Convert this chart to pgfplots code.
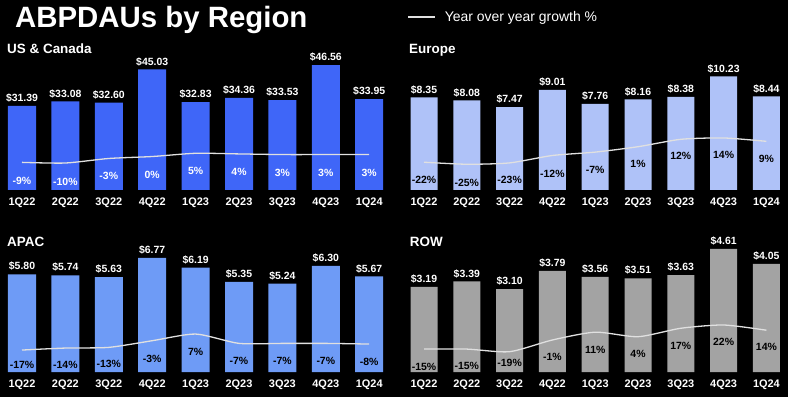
\documentclass[border=0pt]{standalone}
\usepackage{fontspec}
\setmainfont{Liberation Sans}
\usepackage{pgfplots}
\usepackage{pgfplotstable}
\pgfplotsset{compat=1.18}
\definecolor{usblue}{HTML}{3F66F8}
\definecolor{eublue}{HTML}{AFC2F8}
\definecolor{apblue}{HTML}{6E9BF6}
\definecolor{rowgray}{HTML}{A3A3A3}
\definecolor{gline}{HTML}{E0E0E0}

% x  value  yoy-growth  label-offset(bp)
\pgfplotstableread{
x val g off
0 31.39 -9 -18.5
1 33.08 -10 -18.5
2 32.60 -3 -17
3 45.03 0 -18
4 32.83 5 -18
5 34.36 4 -18
6 33.53 3 -18
7 46.56 3 -18
8 33.95 3 -18
}\us
\pgfplotstableread{
x val g off
0 8.35 -22 -18
1 8.08 -25 -18.5
2 7.47 -23 -17.5
3 9.01 -12 -18
4 7.76 -7 -17.5
5 8.16 1 -17.5
6 8.38 12 -17
7 10.23 14 -17
8 8.44 9 -17.5
}\eu
\pgfplotstableread{
x val g off
0 5.80 -17 -14.5
1 5.74 -14 -17
2 5.63 -13 -17
3 6.77 -3 -18
4 6.19 7 -17.5
5 5.35 -7 -17.5
6 5.24 -7 -17.5
7 6.30 -7 -17.5
8 5.67 -8 -18
}\ap
\pgfplotstableread{
x val g off
0 3.19 -15 -17.5
1 3.39 -15 -17
2 3.10 -19 -11
3 3.79 -1 -16.5
4 3.56 11 -17.5
5 3.51 4 -17.5
6 3.63 17 -17.5
7 4.61 22 -17
8 4.05 14 -17
}\rw

\pgfplotsset{
  barax/.style={anchor=south west, xmin=-0.5, xmax=8.5, ymin=0, clip=false,
    enlargelimits=false, ybar, axis line style={draw=none}, major tick length=0pt,
    ytick=\empty, xtick={0,...,8},
    xticklabels={1Q22,2Q22,3Q22,4Q22,1Q23,2Q23,3Q23,4Q23,1Q24},
    xticklabel style={font=\fontsize{11}{13}\selectfont\bfseries, text=white, yshift=-4.5bp},
    nodes near coords={\$\pgfplotspointmeta}, point meta=explicit symbolic,
    every node near coord/.append style={font=\fontsize{10.5}{12}\selectfont\bfseries, text=white}},
  grax/.style={anchor=south west, xmin=-0.5, xmax=8.5, hide axis, clip=false,
    enlargelimits=false},
  grline/.style={gline, line width=1.3bp, smooth, tension=0.4, mark=none,
    nodes near coords={\pgfplotspointmeta\%}, point meta=explicit symbolic,
    visualization depends on={\thisrow{off} \as \dy},
    every node near coord/.append style={anchor=center, yshift=\dy*1bp,
      font=\fontsize{10.5}{12}\selectfont\bfseries, text=#1}},
}

\begin{document}
\begin{tikzpicture}
\useasboundingbox (0,0) rectangle (788bp,397bp);
\fill[black] (0,0) rectangle (788bp,397bp);

\node[anchor=base west, inner sep=0, text=white, font=\fontsize{29.5}{34}\selectfont\bfseries] at (15bp,369.7bp) {ABPDAUs by Region};
\draw[gline, line width=2.5bp] (408bp,380bp) -- (435bp,380bp);
\node[anchor=base west, inner sep=0, text=white, font=\fontsize{14}{16}\selectfont] at (444.7bp,375.3bp) {Year over year growth \%};

\node[anchor=base west, inner sep=0, text=white, font=\fontsize{13.5}{16}\selectfont\bfseries] at (7bp,343.2bp) {US \& Canada};
\node[anchor=base west, inner sep=0, text=white, font=\fontsize{13.5}{16}\selectfont\bfseries] at (409bp,343.2bp) {Europe};
\node[anchor=base west, inner sep=0, text=white, font=\fontsize{13.5}{16}\selectfont\bfseries] at (7bp,150.5bp) {APAC};
\node[anchor=base west, inner sep=0, text=white, font=\fontsize{13.5}{16}\selectfont\bfseries] at (409.7bp,150.5bp) {ROW};

% US & Canada
\begin{axis}[barax, at={(0.3bp,207bp)}, x=43.4bp, y=2.68bp, ymax=55]
\addplot[fill=usblue, draw=none, bar width=28bp] table[x=x, y=val, meta=val] {\us};
\end{axis}
\begin{axis}[grax, at={(0.3bp,207bp)}, x=43.4bp, y=0.65bp, ymin=-51.5, ymax=60]
\addplot[grline=white] table[x=x, y=g, meta=g] {\us};
\end{axis}

% Europe
\begin{axis}[barax, at={(402.6bp,207bp)}, x=42.8bp, y=11.1bp, ymax=13]
\addplot[fill=eublue, draw=none, bar width=27bp] table[x=x, y=val, meta=val] {\eu};
\end{axis}
\begin{axis}[grax, at={(402.6bp,207bp)}, x=42.8bp, y=0.674bp, ymin=-63.2, ymax=60]
\addplot[grline=black] table[x=x, y=g, meta=g] {\eu};
\end{axis}

% APAC
\begin{axis}[barax, at={(0.3bp,25bp)}, x=43.4bp, y=16.85bp, ymax=8.5]
\addplot[fill=apblue, draw=none, bar width=28bp] table[x=x, y=val, meta=val] {\ap};
\end{axis}
\begin{axis}[grax, at={(0.3bp,25bp)}, x=43.4bp, y=0.667bp, ymin=-49.9, ymax=60]
\addplot[grline=black] table[x=x, y=g, meta=g] {\ap};
\end{axis}

% ROW
\begin{axis}[barax, at={(402.6bp,25bp)}, x=42.8bp, y=26.7bp, ymax=5.5]
\addplot[fill=rowgray, draw=none, bar width=27bp] table[x=x, y=val, meta=val] {\rw};
\end{axis}
\begin{axis}[grax, at={(402.6bp,25bp)}, x=42.8bp, y=0.651bp, ymin=-50.2, ymax=60]
\addplot[grline=black] table[x=x, y=g, meta=g] {\rw};
\end{axis}
\end{tikzpicture}
\end{document}
